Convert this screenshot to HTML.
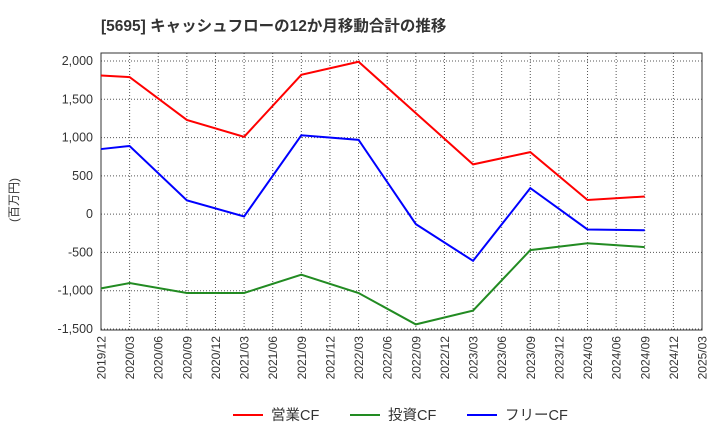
<!DOCTYPE html>
<html><head><meta charset="utf-8"><style>
body{margin:0;background:#fff;font-family:"Liberation Sans","Noto Sans CJK JP",sans-serif;}
</style></head><body>
<svg width="720" height="440" xmlns="http://www.w3.org/2000/svg" id="chart">
<text x="101" y="31" font-size="15.5" font-weight="bold" fill="#333" font-family="Liberation Sans, Noto Sans CJK JP, sans-serif">[5695]  キャッシュフローの12か月移動合計の推移</text>
<text transform="translate(18,200) rotate(-90)" font-size="12" fill="#333" text-anchor="middle" font-family="Liberation Sans, Noto Sans CJK JP, sans-serif">(百万円)</text>
<g id="grid"></g><g id="axes"></g><g id="series"></g><g id="legend"></g>
</svg>
<script>
const xLabels=["2019/12","2020/03","2020/06","2020/09","2020/12","2021/03","2021/06","2021/09","2021/12","2022/03","2022/06","2022/09","2022/12","2023/03","2023/06","2023/09","2023/12","2024/03","2024/06","2024/09","2024/12","2025/03"];
const yTicks=[2000,1500,1000,500,0,-500,-1000,-1500];
const idx=[0,1,3,5,7,9,11,13,15,17,19];
const opCF=[1810,1790,1230,1010,1820,1990,1320,650,810,185,230];
const invCF=[-970,-900,-1030,-1030,-790,-1030,-1440,-1260,-470,-380,-430];
const freeCF=[850,890,180,-30,1030,970,-130,-610,340,-200,-210];
const L=101,R=702,T=53,B=330;
const X=i=>L+(R-L)*i/(xLabels.length-1);
const Y=v=>61+(2000-v)*(329-61)/3500;
const NS="http://www.w3.org/2000/svg";
function mk(p,t,a){const e=document.createElementNS(NS,t);for(const k in a)e.setAttribute(k,a[k]);p.appendChild(e);return e;}
const grid=document.getElementById('grid'),axes=document.getElementById('axes'),ser=document.getElementById('series'),leg=document.getElementById('legend');
xLabels.forEach((l,i)=>{const x=X(i);
 const g=mk(grid,'line',{x1:x,x2:x,y1:T,y2:B,stroke:'#555','stroke-dasharray':'1,2','stroke-width':1});
 
 
 const t=mk(axes,'text',{transform:`translate(${x+4.5},${B+6}) rotate(-90)`,'font-size':12,fill:'#333','text-anchor':'end'});
 t.textContent=l;
 
 
});
yTicks.forEach(v=>{const y=Y(v);
 const g=mk(grid,'line',{x1:L,x2:R,y1:y,y2:y,stroke:'#555','stroke-dasharray':'1,2','stroke-width':1});
 
 
 const t=mk(axes,'text',{x:L-8,y:y+4,'font-size':12.5,fill:'#333','text-anchor':'end'});
 t.textContent=v.toLocaleString('en-US');
 
 
});
const fr=mk(axes,'rect',{x:L,y:T,width:R-L,height:B-T,fill:'none',stroke:'#333'});


const series=[["営業CF",opCF,"#f00"],["投資CF",invCF,"#228b22"],["フリーCF",freeCF,"#00f"]];
series.forEach(([n,d,c],k)=>{
 const pl=mk(ser,'polyline',{points:d.map((v,j)=>X(idx[j])+','+Y(v)).join(' '),fill:'none',stroke:c,'stroke-width':2});
 
 
 const lx=233+k*117;
 const ll=mk(leg,'line',{x1:lx,x2:lx+30,y1:415,y2:415,stroke:c,'stroke-width':2});
 
 
 const lt=mk(leg,'text',{x:lx+38,y:420,'font-size':14.5,fill:'#333'});
 lt.textContent=n;
 
 
});
</script>
</body></html>
